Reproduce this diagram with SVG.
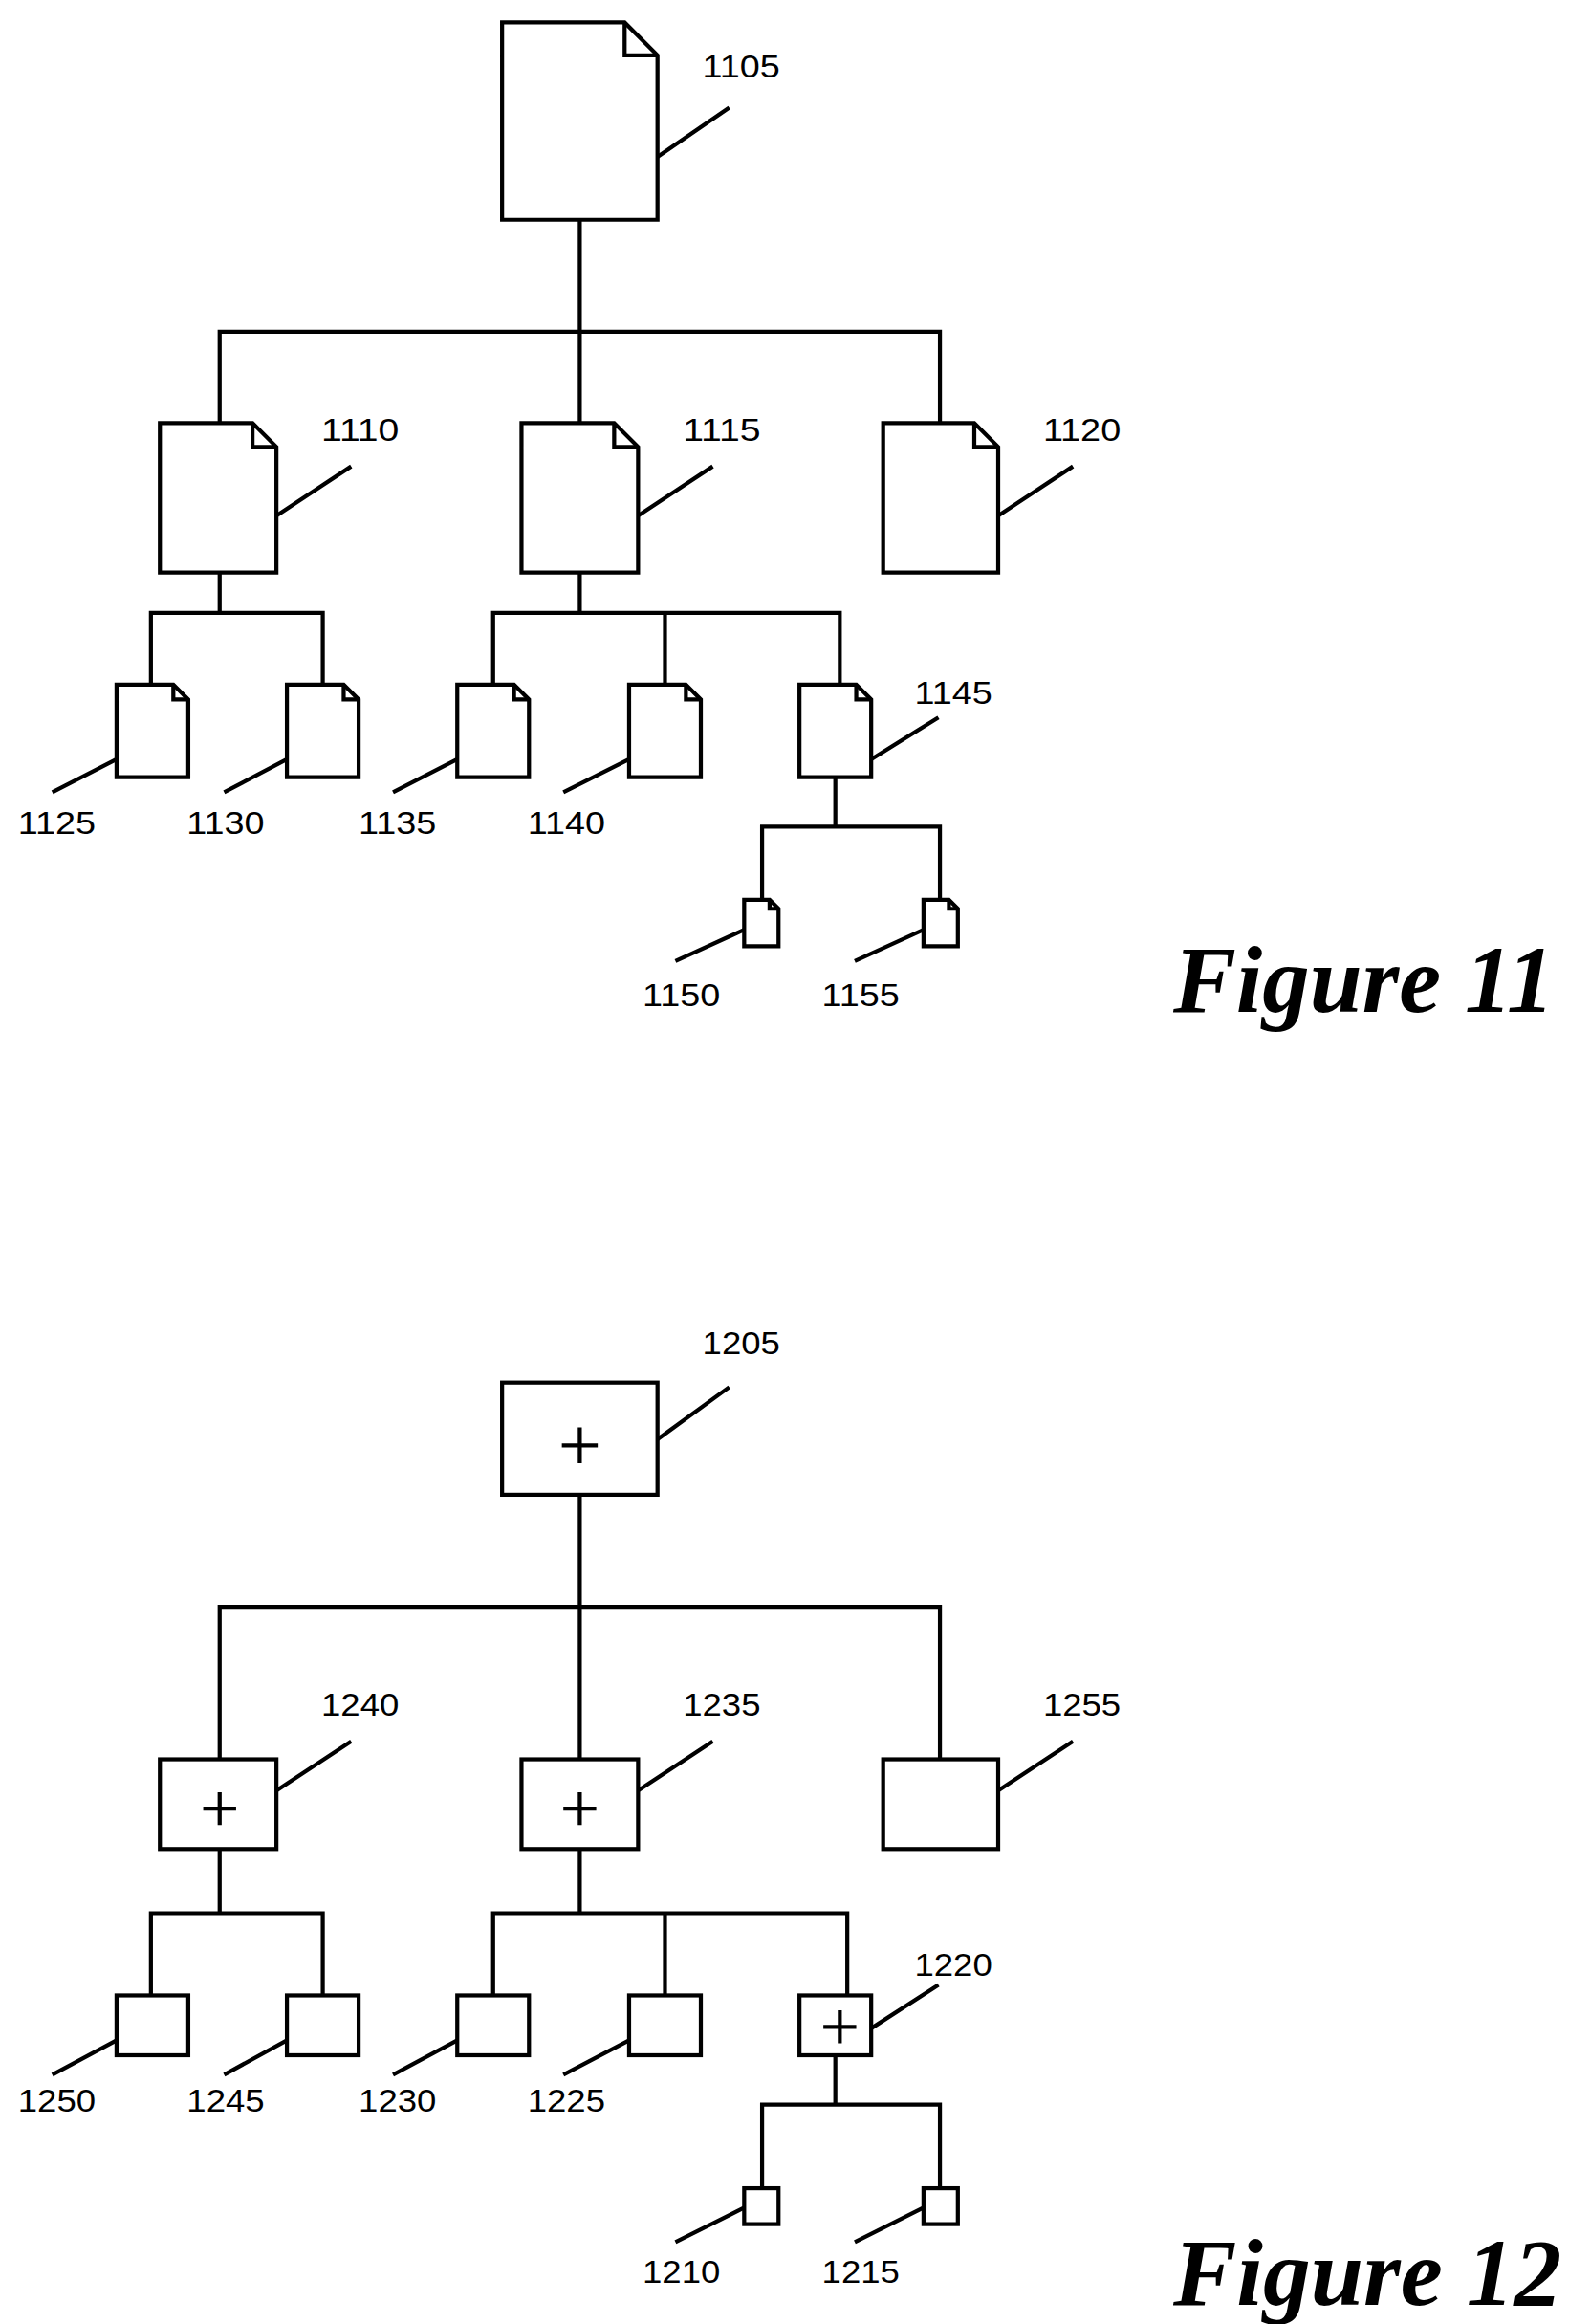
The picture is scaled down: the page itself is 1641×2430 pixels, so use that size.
<svg xmlns="http://www.w3.org/2000/svg" width="1641" height="2430" viewBox="0 0 1641 2430">
<style>
.s{fill:none;stroke:#000;stroke-width:2.7;stroke-linejoin:miter}
.b{fill:#fff;stroke:#000;stroke-width:2.7}
.t{font-family:"Liberation Sans",Arial,sans-serif;font-size:21px;fill:#000}
.f{font-family:"Liberation Serif","Times New Roman",serif;font-size:64px;font-weight:bold;font-style:italic;fill:#000}
</style>
<rect width="1641" height="2430" fill="#fff"/>
<g transform="scale(1.5629)">
<g id="connectors" class="s">
<path d="M388 147V283M147 283V222H629V283"/>
<path d="M147 383V410M101 458V410H216V458"/>
<path d="M388 383V410M330 458V410H562V458M445 410V458"/>
<path d="M559 520V553M510 602V553H629V602"/>
<path d="M388 1000V1177M147 1177V1075H629V1177"/>
<path d="M147 1237V1280M101 1335V1280H216V1335"/>
<path d="M388 1237V1280M330 1335V1280H567V1335M445 1280V1335"/>
<path d="M559 1375V1408M510 1464V1408H629V1464"/>
<path d="M440 105L488 72M185 345L235 312M427 345L477 312M668 345L718 312M78 508L35 530M192 508L150 530M306 508L263 530M421 508L377 530M583 508L628 480M498 622L452 643M618 622L572 643"/>
<path d="M440 963L488 928M185 1198L235 1165M427 1198L477 1165M668 1198L718 1165M78 1365L35 1388M192 1365L150 1388M306 1365L263 1388M421 1365L377 1388M583 1357L628 1328M498 1477L452 1500M618 1477L572 1500"/>
</g>
<g id="n1105"><path class="b" d="M336 15H418L440 37V147H336Z"/><path class="s" d="M418 15V37H440"/><text class="t" x="470" y="52" textLength="52" lengthAdjust="spacingAndGlyphs">1105</text></g>
<g id="n1110"><path class="b" d="M107 283H169L185 299V383H107Z"/><path class="s" d="M169 283V299H185"/><text class="t" x="215" y="295" textLength="52" lengthAdjust="spacingAndGlyphs">1110</text></g>
<g id="n1115"><path class="b" d="M349 283H411L427 299V383H349Z"/><path class="s" d="M411 283V299H427"/><text class="t" x="457" y="295" textLength="52" lengthAdjust="spacingAndGlyphs">1115</text></g>
<g id="n1120"><path class="b" d="M591 283H652L668 299V383H591Z"/><path class="s" d="M652 283V299H668"/><text class="t" x="698" y="295" textLength="52" lengthAdjust="spacingAndGlyphs">1120</text></g>
<g id="n1125"><path class="b" d="M78 458H116L126 468V520H78Z"/><path class="s" d="M116 458V468H126"/><text class="t" x="12" y="558" textLength="52" lengthAdjust="spacingAndGlyphs">1125</text></g>
<g id="n1130"><path class="b" d="M192 458H230L240 468V520H192Z"/><path class="s" d="M230 458V468H240"/><text class="t" x="125" y="558" textLength="52" lengthAdjust="spacingAndGlyphs">1130</text></g>
<g id="n1135"><path class="b" d="M306 458H344L354 468V520H306Z"/><path class="s" d="M344 458V468H354"/><text class="t" x="240" y="558" textLength="52" lengthAdjust="spacingAndGlyphs">1135</text></g>
<g id="n1140"><path class="b" d="M421 458H459L469 468V520H421Z"/><path class="s" d="M459 458V468H469"/><text class="t" x="353" y="558" textLength="52" lengthAdjust="spacingAndGlyphs">1140</text></g>
<g id="n1145"><path class="b" d="M535 458H573L583 468V520H535Z"/><path class="s" d="M573 458V468H583"/><text class="t" x="612" y="471" textLength="52" lengthAdjust="spacingAndGlyphs">1145</text></g>
<g id="n1150"><path class="b" d="M498 602H515L521 608V633H498Z"/><path class="s" d="M515 602V608H521"/><text class="t" x="430" y="673" textLength="52" lengthAdjust="spacingAndGlyphs">1150</text></g>
<g id="n1155"><path class="b" d="M618 602H635L641 608V633H618Z"/><path class="s" d="M635 602V608H641"/><text class="t" x="550" y="673" textLength="52" lengthAdjust="spacingAndGlyphs">1155</text></g>
<text class="f" x="785" y="677" textLength="255" lengthAdjust="spacingAndGlyphs">Figure 11</text>

<g id="n1205"><rect class="b" x="336" y="925" width="104" height="75"/><path class="s" d="M388 955V979M376 967H400"/><text class="t" x="470" y="906" textLength="52" lengthAdjust="spacingAndGlyphs">1205</text></g>
<g id="n1240"><rect class="b" x="107" y="1177" width="78" height="60"/><path class="s" d="M147 1199V1221M136 1210H158"/><text class="t" x="215" y="1148" textLength="52" lengthAdjust="spacingAndGlyphs">1240</text></g>
<g id="n1235"><rect class="b" x="349" y="1177" width="78" height="60"/><path class="s" d="M388 1199V1221M377 1210H399"/><text class="t" x="457" y="1148" textLength="52" lengthAdjust="spacingAndGlyphs">1235</text></g>
<g id="n1255"><rect class="b" x="591" y="1177" width="77" height="60"/><text class="t" x="698" y="1148" textLength="52" lengthAdjust="spacingAndGlyphs">1255</text></g>
<g id="n1250"><rect class="b" x="78" y="1335" width="48" height="40"/><text class="t" x="12" y="1413" textLength="52" lengthAdjust="spacingAndGlyphs">1250</text></g>
<g id="n1245"><rect class="b" x="192" y="1335" width="48" height="40"/><text class="t" x="125" y="1413" textLength="52" lengthAdjust="spacingAndGlyphs">1245</text></g>
<g id="n1230"><rect class="b" x="306" y="1335" width="48" height="40"/><text class="t" x="240" y="1413" textLength="52" lengthAdjust="spacingAndGlyphs">1230</text></g>
<g id="n1225"><rect class="b" x="421" y="1335" width="48" height="40"/><text class="t" x="353" y="1413" textLength="52" lengthAdjust="spacingAndGlyphs">1225</text></g>
<g id="n1220"><rect class="b" x="535" y="1335" width="48" height="40"/><path class="s" d="M562 1345V1367M551 1356H573"/><text class="t" x="612" y="1322" textLength="52" lengthAdjust="spacingAndGlyphs">1220</text></g>
<g id="n1210"><rect class="b" x="498" y="1464" width="23" height="24"/><text class="t" x="430" y="1527" textLength="52" lengthAdjust="spacingAndGlyphs">1210</text></g>
<g id="n1215"><rect class="b" x="618" y="1464" width="23" height="24"/><text class="t" x="550" y="1527" textLength="52" lengthAdjust="spacingAndGlyphs">1215</text></g>
<text class="f" x="785" y="1542" textLength="260" lengthAdjust="spacingAndGlyphs">Figure 12</text>
</g>
</svg>
